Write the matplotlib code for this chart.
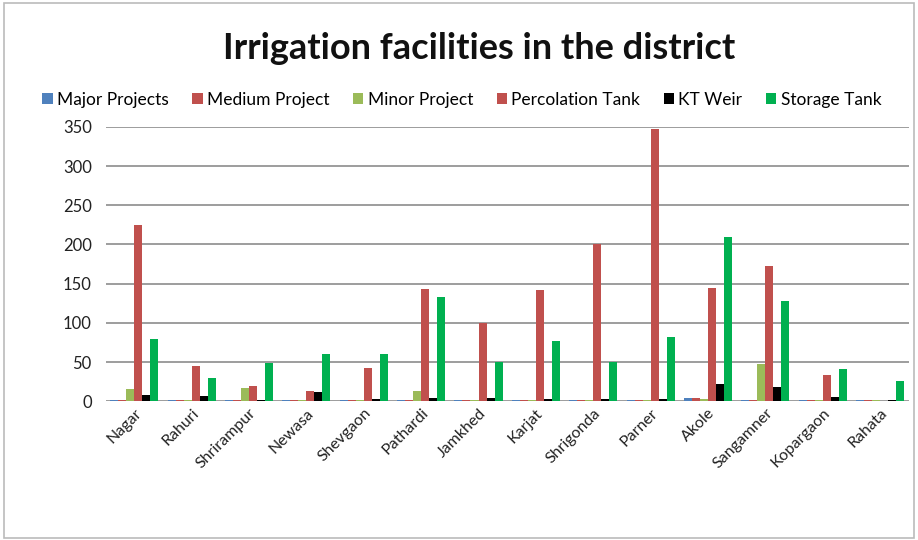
import numpy as np
import matplotlib.pyplot as plt

plt.rcParams['font.family'] = ['Lato', 'DejaVu Sans']

talukas = ["Nagar", "Rahuri", "Shrirampur", "Newasa", "Shevgaon", "Pathardi", "Jamkhed",
           "Karjat", "Shrigonda", "Parner", "Akole", "Sangamner", "Kopargaon", "Rahata"]

major = [2, 2, 2, 2, 2, 2, 2, 2, 2, 2, 4, 2, 2, 1]
medium = [2, 2, 2, 2, 2, 2, 2, 2, 2, 2, 4, 2, 2, 1]
minor = [15, 2, 17, 2, 2, 13, 2, 2, 2, 2, 3, 47, 2, 1]
percolation = [225, 45, 20, 13, 43, 143, 100, 142, 201, 347, 145, 172, 33, 0]
kt_weir = [8, 7, 2, 12, 3, 4, 4, 3, 3, 3, 22, 18, 6, 2]
storage = [80, 29, 49, 60, 60, 133, 50, 77, 50, 82, 210, 128, 41, 26]

series = [
    ("Major Projects", major, "#4F81BD"),
    ("Medium Project", medium, "#C0504D"),
    ("Minor Project", minor, "#9BBB59"),
    ("Percolation Tank", percolation, "#C0504D"),
    ("KT Weir", kt_weir, "#000000"),
    ("Storage Tank", storage, "#00B050"),
]

fig = plt.figure(figsize=(9.18, 5.4), dpi=100)
ax = fig.add_axes([0.115, 0.257, 0.875, 0.508])

x = np.arange(len(talukas))
w = 0.14
for i, (name, vals, col) in enumerate(series):
    ax.bar(x + (i - 2.5) * w, vals, w, color=col, label=name, zorder=3)

ax.set_ylim(0, 350)
ax.set_xlim(-0.5, len(talukas) - 0.5)
ax.set_yticks(range(0, 351, 50))
ax.yaxis.grid(True, color="#8c8c8c", linewidth=1.2, zorder=0)
ax.tick_params(axis='y', length=0, labelsize=12, colors="#222222", pad=10)
ax.tick_params(axis='x', length=0, labelsize=11.5, colors="#222222")
ax.set_xticks(x)
ax.set_xticklabels(talukas, rotation=45, ha='right', rotation_mode='anchor')
for s in ax.spines.values():
    s.set_visible(False)

fig.text(0.522, 0.91, "Irrigation facilities in the district", ha='center', va='center',
         fontsize=26, fontweight='bold', color="#111111")
fig.legend(loc='center', bbox_to_anchor=(0.503, 0.815), ncol=6, frameon=False,
           fontsize=12.5, handlelength=0.6, handleheight=0.6, handletextpad=0.25,
           columnspacing=1.35)

fig.patches.append(plt.Rectangle((0.004, 0.004), 0.992, 0.99, transform=fig.transFigure,
                                 fill=False, edgecolor="#bbbbbb", linewidth=1.2))

fig.savefig("out.png", dpi=100)
